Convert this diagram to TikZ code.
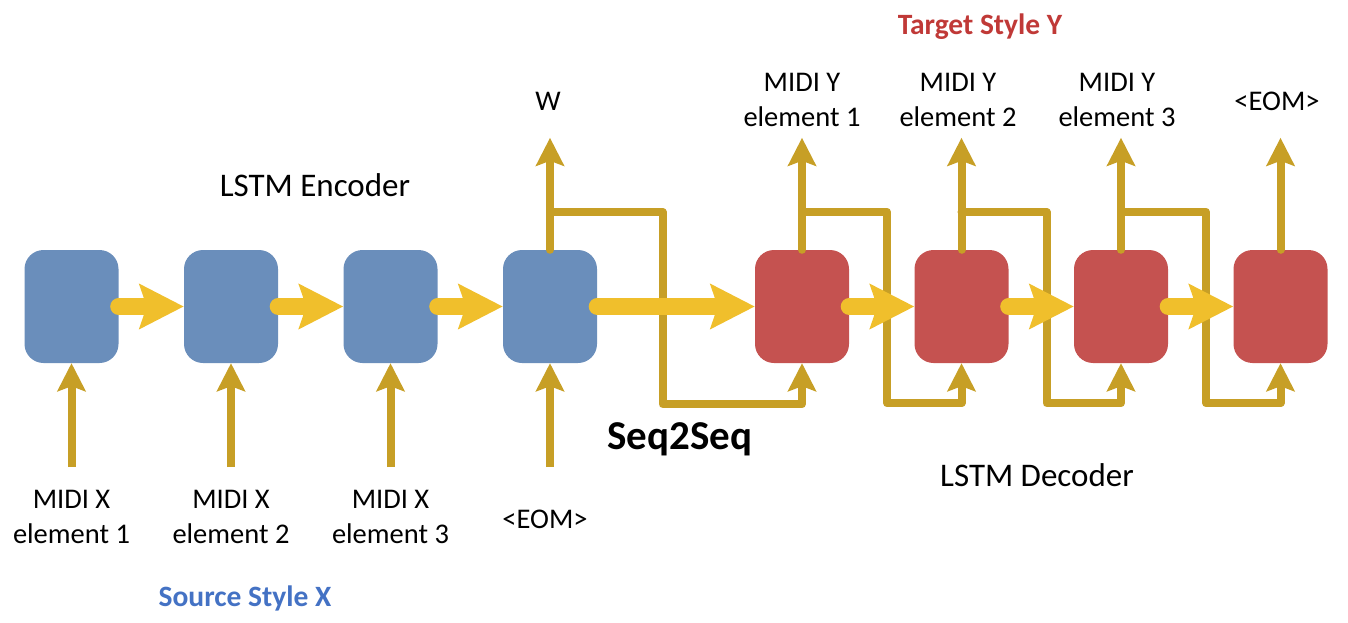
\documentclass[tikz,border=0pt]{standalone}
\usepackage{fontspec}
\setmainfont{Carlito}
\usetikzlibrary{arrows.meta}
\definecolor{encblue}{RGB}{106,142,187}
\definecolor{decred}{RGB}{197,82,80}
\definecolor{flowyellow}{RGB}{240,191,44}
\definecolor{mustard}{RGB}{199,159,38}
\definecolor{srcblue}{RGB}{68,114,196}
\definecolor{tgtred}{RGB}{192,57,55}
\begin{document}
\begin{tikzpicture}[x=1pt,y=-1pt,
  lstmbox/.style={minimum width=94pt,minimum height=113pt,rounded corners=19pt,inner sep=0pt},
  encbox/.style={lstmbox,fill=encblue},
  decbox/.style={lstmbox,fill=decred},
  lbl/.style={font=\fontsize{28.5}{35.5}\selectfont,align=center,inner sep=0pt},
  head/.style={font=\fontsize{33}{40}\selectfont,inner sep=0pt},
  ttl/.style={font=\fontsize{29.5}{35.5}\selectfont\bfseries,inner sep=0pt},
  flow/.style={draw=flowyellow,line width=17pt,line cap=round,-{Stealth[length=44pt,width=44pt,inset=7pt]}},
  io/.style={draw=mustard,line width=8pt,line join=round,line cap=round,-{Stealth[length=28pt,width=28pt,inset=5pt]}},
  ]
\path[use as bounding box] (0,0) rectangle (1348,623);

% boxes
\node[encbox] (e1) at (71.5,306.5) {};
\node[encbox] (e2) at (231,306.5) {};
\node[encbox] (e3) at (390.5,306.5) {};
\node[encbox] (e4) at (550,306.5) {};
\node[decbox] (d1) at (802,306.5) {};
\node[decbox] (d2) at (961.5,306.5) {};
\node[decbox] (d3) at (1121,306.5) {};
\node[decbox] (d4) at (1280.5,306.5) {};

% labels
\node[lbl] (x1) at (71.5,517) {MIDI X\\element 1};
\node[lbl] (x2) at (231,517) {MIDI X\\element 2};
\node[lbl] (x3) at (390.5,517) {MIDI X\\element 3};
\node[lbl] (x4) at (545,519) {<EOM>};
\node[lbl] (w) at (548,101) {W};
\node[lbl] (y1) at (802,100) {MIDI Y\\element 1};
\node[lbl] (y2) at (958,100) {MIDI Y\\element 2};
\node[lbl] (y3) at (1117,100) {MIDI Y\\element 3};
\node[lbl] (y4) at (1277,101) {<EOM>};
\node[head] (enc) at (315,185) {LSTM Encoder};
\node[head] (dec) at (1037,475) {LSTM Decoder};
\node[font=\fontsize{41}{48}\selectfont\bfseries,inner sep=0pt] (s2s) at (680,439) {Seq2Seq};
\node[ttl,text=srcblue] (src) at (245,598) {Source Style X};
\node[ttl,text=tgtred] (tgt) at (980,27) {Target Style Y};

% input arrows
\foreach \b in {e1,e2,e3,e4}{
  \coordinate (in-\b) at ([yshift=-104pt]\b.south);
  \draw[io,line cap=butt] (in-\b) -- (\b.south);
}
% output arrows
\foreach \b in {e4,d1,d2,d3,d4}{
  \coordinate (out-\b) at ([yshift=112pt]\b.north);
  \draw[io] (\b.north) -- (out-\b);
}
% feedback branches
\coordinate (j4) at ([yshift=38pt]e4.north);
\draw[io] (j4) -- ++(112.5,0) |- ([yshift=-41pt]d1.south) -- (d1.south);
\coordinate (j5) at ([yshift=38pt]d1.north);
\draw[io] (j5) -- ++(85,0) |- ([yshift=-40pt]d2.south) -- (d2.south);
\coordinate (j6) at ([yshift=38pt]d2.north);
\draw[io] (j6) -- ++(85,0) |- ([yshift=-40pt]d3.south) -- (d3.south);
\coordinate (j7) at ([yshift=38pt]d3.north);
\draw[io] (j7) -- ++(85,0) |- ([yshift=-40pt]d4.south) -- (d4.south);

% recurrent flow
\draw[flow] (e1.east) -- (e2.west);
\draw[flow] (e2.east) -- (e3.west);
\draw[flow] (e3.east) -- (e4.west);
\draw[flow] (e4.east) -- (d1.west);
\draw[flow] (d1.east) -- (d2.west);
\draw[flow] (d2.east) -- (d3.west);
\draw[flow] (d3.east) -- (d4.west);
\end{tikzpicture}
\end{document}
